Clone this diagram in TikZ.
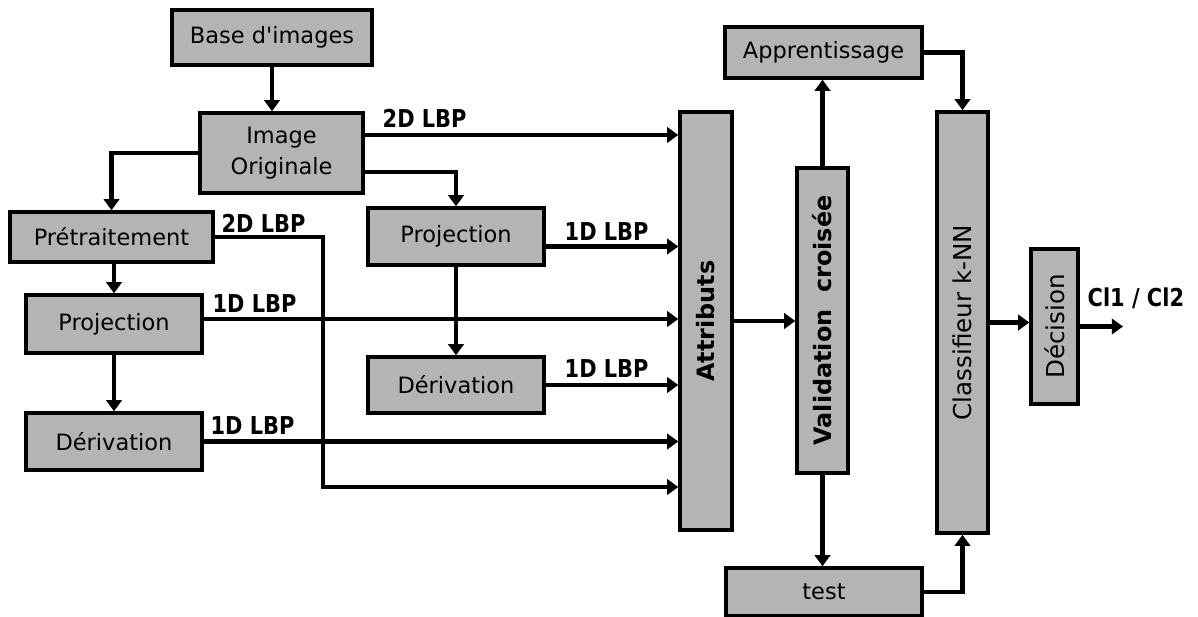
\documentclass[tikz,border=0pt]{standalone}
\usepackage{fontspec}
\setmainfont{DejaVu Sans}
\newfontfamily\lblfont[FakeStretch=0.85]{DejaVu Sans}
\usepackage{xcolor}
\definecolor{cBox}{HTML}{B4B4B4}
\usetikzlibrary{arrows.meta}

\begin{document}
\begin{tikzpicture}[
    x=0.025cm, y=-0.025cm,
    blockbox/.style={draw, line width=2.4pt, fill=cBox, align=center,
                     inner sep=2pt, font=\fontsize{16}{22}\selectfont},
    vbox/.style={blockbox, rotate=90, font=\fontsize{17.5}{20}\selectfont},
    vboldbox/.style={vbox, font=\bfseries\fontsize{17}{20}\selectfont},
    arr/.style={-{Triangle[length=8pt, width=11pt]}, line width=3.4pt},
    lbp/.style={font=\lblfont\bfseries\fontsize{17.5}{19}\selectfont,
                inner sep=1pt, anchor=south west}
]
\useasboundingbox (0,0) rectangle (1198,617);

% chaine de pretraitement
\node[blockbox, minimum width=5cm, minimum height=1.375cm] (base) at (272,37.5) {Base d\textquotesingle images};
\node[blockbox, minimum width=4.075cm, minimum height=2cm] (orig) at (281.5,153) {Image\\Originale};
\node[blockbox, minimum width=5.075cm, minimum height=1.25cm] (pretr) at (111.5,237) {Prétraitement};
\node[blockbox, minimum width=4.4cm, minimum height=1.45cm] (projL) at (114,324) {Projection};
\node[blockbox, minimum width=4.4cm, minimum height=1.425cm] (derivL) at (114,441.5) {Dérivation};
\node[blockbox, minimum width=4.4cm, minimum height=1.425cm] (projM) at (456,236.5) {Projection};
\node[blockbox, minimum width=4.4cm, minimum height=1.4cm] (derivM) at (456,385) {Dérivation};

% classification
\node[vboldbox, minimum width=10.45cm, minimum height=1.3cm] (attr) at (706,321) {Attributs};
\node[vboldbox, minimum width=7.625cm, minimum height=1.275cm] (valid) at (822.5,320.5) {Validation\ \ croisée};
\node[blockbox, minimum width=4.925cm, minimum height=1.275cm] (appr) at (823.5,52.5) {Apprentissage};
\node[blockbox, minimum width=4.9cm, minimum height=1.2cm] (test) at (824,592) {test};
\node[vbox, minimum width=10.525cm, minimum height=1.275cm] (knn) at (962.5,322.5) {Classifieur k-NN};
\node[vbox, minimum width=3.875cm, minimum height=1.175cm] (decis) at (1054.5,326.5) {Décision};

\coordinate (o2d) at ([yshift=0.45cm]orig.east);
\coordinate (oproj) at ([yshift=-0.475cm]orig.east);
\coordinate (bend2d) at (323,487);
\coordinate (pL) at ([yshift=0.125cm]projL.east);
\coordinate (pM) at ([yshift=-0.25cm]projM.east);
\coordinate (out) at (1123,326.5);

\draw[arr] (base.south) -- (base.south |- orig.north);
\draw[arr] (orig.west) -| (pretr.north);
\draw[arr] (pretr.south -| projL.north) -- (projL.north);
\draw[arr] (projL) -- (derivL);
\draw[arr] (oproj) -| (projM.north);
\draw[arr] (projM) -- (derivM);

\draw[arr] (o2d) -- (o2d -| attr.north);
\draw[arr] (pretr.east) -| (bend2d) -- (bend2d -| attr.north);
\draw[arr] (pL) -- (pL -| attr.north);
\draw[arr] (derivL.east) -- (derivL.east -| attr.north);
\draw[arr] (pM) -- (pM -| attr.north);
\draw[arr] (derivM.east) -- (derivM.east -| attr.north);

\draw[arr] (attr.south) -- (attr.south -| valid.north);
\draw[arr] (valid.east) -- (valid.east |- appr.south);
\draw[arr] (valid.west) -- (valid.west |- test.north);
\draw[arr] (appr.east) -| (knn.east);
\draw[arr] (test.east) -| (knn.west);
\draw[arr] (knn.south) -- (knn.south -| decis.north);
\draw[arr] (decis.south) -- (out);

% etiquettes
\node[lbp] (lbpOrig) at (381,129) {2D LBP};
\node[lbp] (lbpPretr) at (220,234) {2D LBP};
\node[lbp] (lbpProjL) at (211,314) {1D LBP};
\node[lbp] (lbpDerivL) at (209,436) {1D LBP};
\node[lbp] (lbpProjM) at (563,242) {1D LBP};
\node[lbp] (lbpDerivM) at (563,379) {1D LBP};
\node[lbp] (lbpOut) at (1086,310) {Cl1 / Cl2};
\end{tikzpicture}
\end{document}
